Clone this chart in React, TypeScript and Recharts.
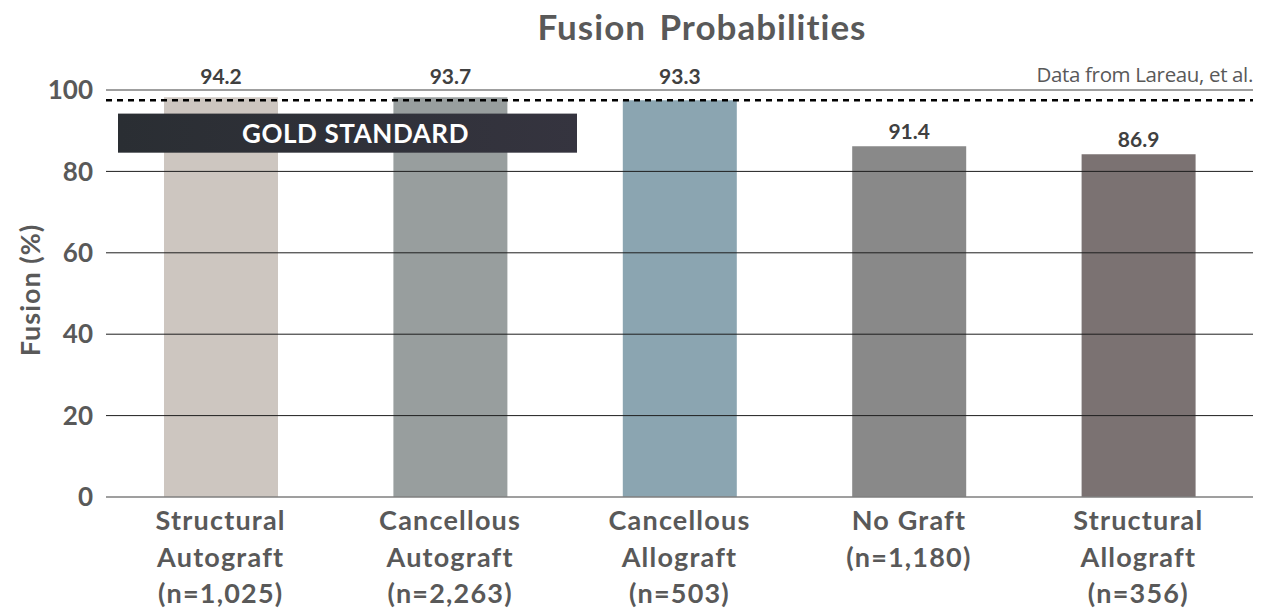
import React from "react";
import { Bar, BarChart, Cell, LabelList, ReferenceLine, XAxis, YAxis } from "recharts";

// Categories, split into the lines shown under each bar
const categoryLines = [
  ["Structural", "Autograft", "(n=1,025)"],
  ["Cancellous", "Autograft", "(n=2,263)"],
  ["Cancellous", "Allograft", "(n=503)"],
  ["No Graft", "(n=1,180)"],
  ["Structural", "Allograft", "(n=356)"],
];
// Bar heights as drawn in the picture (%)
const barHeights = [98.2, 98.2, 97.5, 86.2, 84.2];
// Printed value labels
const valueLabels = ["94.2", "93.7", "93.3", "91.4", "86.9"];
const barColors = ["#cdc6c0", "#989e9e", "#8ba5b1", "#898989", "#7b7272"];
const yTicks = [0, 20, 40, 60, 80, 100];
const goldStandardLevel = 97.5;
const goldBox = [84.6, 94.2];

const data = categoryLines.map((lines, i) => ({
  name: lines.join(" "),
  lines,
  value: barHeights[i],
  label: valueLabels[i],
}));

const FONT = "Lato, 'Open Sans', sans-serif";
const TEXT = "#595959";
const W = 1261;
const H = 613;
const M = { top: 90, right: 8, bottom: 0, left: 0 };
const Y_AXIS_W = 106;
const X_AXIS_H = 116;
const PLOT_H = H - M.top - X_AXIS_H;

function CategoryTick(props: any) {
  const { x, y, payload } = props;
  const lines = data[payload.index]?.lines ?? [payload.value];
  return (
    <text x={x} y={y} textAnchor="middle" fill={TEXT} fontFamily={FONT} fontWeight={700} fontSize={27} letterSpacing={1.2}>
      {lines.map((l: string, i: number) => (
        <tspan key={i} x={x} y={y + 33 + i * 36.5}>
          {l}
        </tspan>
      ))}
    </text>
  );
}

function ValueLabel(props: any) {
  const { x, y, width, index } = props;
  // labels of bars reaching the 100 line are lifted above it
  const baseline = y < M.top + 20 ? M.top - 6 : y - 7;
  return (
    <text x={x + width / 2} y={baseline} textAnchor="middle" fill="#404040" fontFamily={FONT} fontWeight={700} fontSize={21}>
      {valueLabels[index]}
    </text>
  );
}

// drawn as the label of a reference line so that it sits above the bars
function GoldBox(props: any) {
  const { viewBox } = props;
  const top = viewBox.y;
  const height = ((goldBox[1] - goldBox[0]) / 100) * PLOT_H;
  const left = Y_AXIS_W + 12;
  const right = 577;
  return (
    <g>
      <defs>
        <linearGradient id="goldGrad" x1="0" x2="1" y1="0" y2="0">
          <stop offset="0%" stopColor="#2a2e33" />
          <stop offset="100%" stopColor="#35343f" />
        </linearGradient>
      </defs>
      <rect x={left} y={top} width={right - left} height={height} fill="url(#goldGrad)" />
      <text
        x={(left + right) / 2 + 8}
        y={top + height / 2}
        dy="0.36em"
        textAnchor="middle"
        fill="#ffffff"
        fontFamily={FONT}
        fontWeight={700}
        fontSize={26}
        letterSpacing={0.6}
      >
        GOLD STANDARD
      </text>
    </g>
  );
}

export default function App() {
  return (
    <div style={{ position: "absolute", left: 0, top: 0, width: W, height: H, background: "#fff" }}>
      <div
        style={{
          position: "absolute",
          left: 0,
          width: 1404,
          top: 6,
          textAlign: "center",
          fontFamily: FONT,
          fontWeight: 700,
          fontSize: 35,
          letterSpacing: 1,
          wordSpacing: 4,
          color: TEXT,
          lineHeight: "40px",
        }}
      >
        Fusion Probabilities
      </div>
      <div
        style={{
          position: "absolute",
          right: 8,
          top: 60,
          fontFamily: "'Open Sans', sans-serif",
          fontSize: 20.5,
          letterSpacing: -0.35,
          color: TEXT,
          lineHeight: "28px",
        }}
      >
        Data from Lareau, et al.
      </div>
      <BarChart width={W} height={H} data={data} margin={M} barSize={114}>
        <XAxis
          dataKey="name"
          interval={0}
          height={X_AXIS_H}
          tickSize={0}
          tickMargin={0}
          tickLine={false}
          axisLine={false}
          tick={<CategoryTick />}
        />
        <YAxis
          width={Y_AXIS_W}
          domain={[0, 100]}
          ticks={yTicks}
          tickSize={0}
          tickMargin={13}
          tickLine={false}
          axisLine={false}
          tick={{ fill: TEXT, fontFamily: FONT, fontWeight: 700, fontSize: 26 }}
          label={{
            value: "Fusion (%)",
            content: () => (
              <text
                transform="translate(40 290) rotate(-90)"
                textAnchor="middle"
                fill={TEXT}
                fontFamily={FONT}
                fontWeight={700}
                fontSize={27}
                letterSpacing={1}
              >
                Fusion (%)
              </text>
            ),
          }}
        />
        <Bar dataKey="value" isAnimationActive={false}>
          {data.map((d, i) => (
            <Cell key={d.name} fill={barColors[i]} />
          ))}
          <LabelList dataKey="label" content={<ValueLabel />} />
        </Bar>
        {yTicks.map((t) => (
          <ReferenceLine
            key={t}
            y={t}
            stroke={t === 0 || t === 100 ? "#7f7f7f" : "#1e1e1e"}
            strokeWidth={t === 0 || t === 100 ? 1.6 : 1}
          />
        ))}
        <ReferenceLine y={goldBox[1]} stroke="none" label={{ content: <GoldBox /> }} />
        <ReferenceLine y={goldStandardLevel} stroke="#000" strokeWidth={2.5} strokeDasharray="6 5" />
      </BarChart>
    </div>
  );
}
